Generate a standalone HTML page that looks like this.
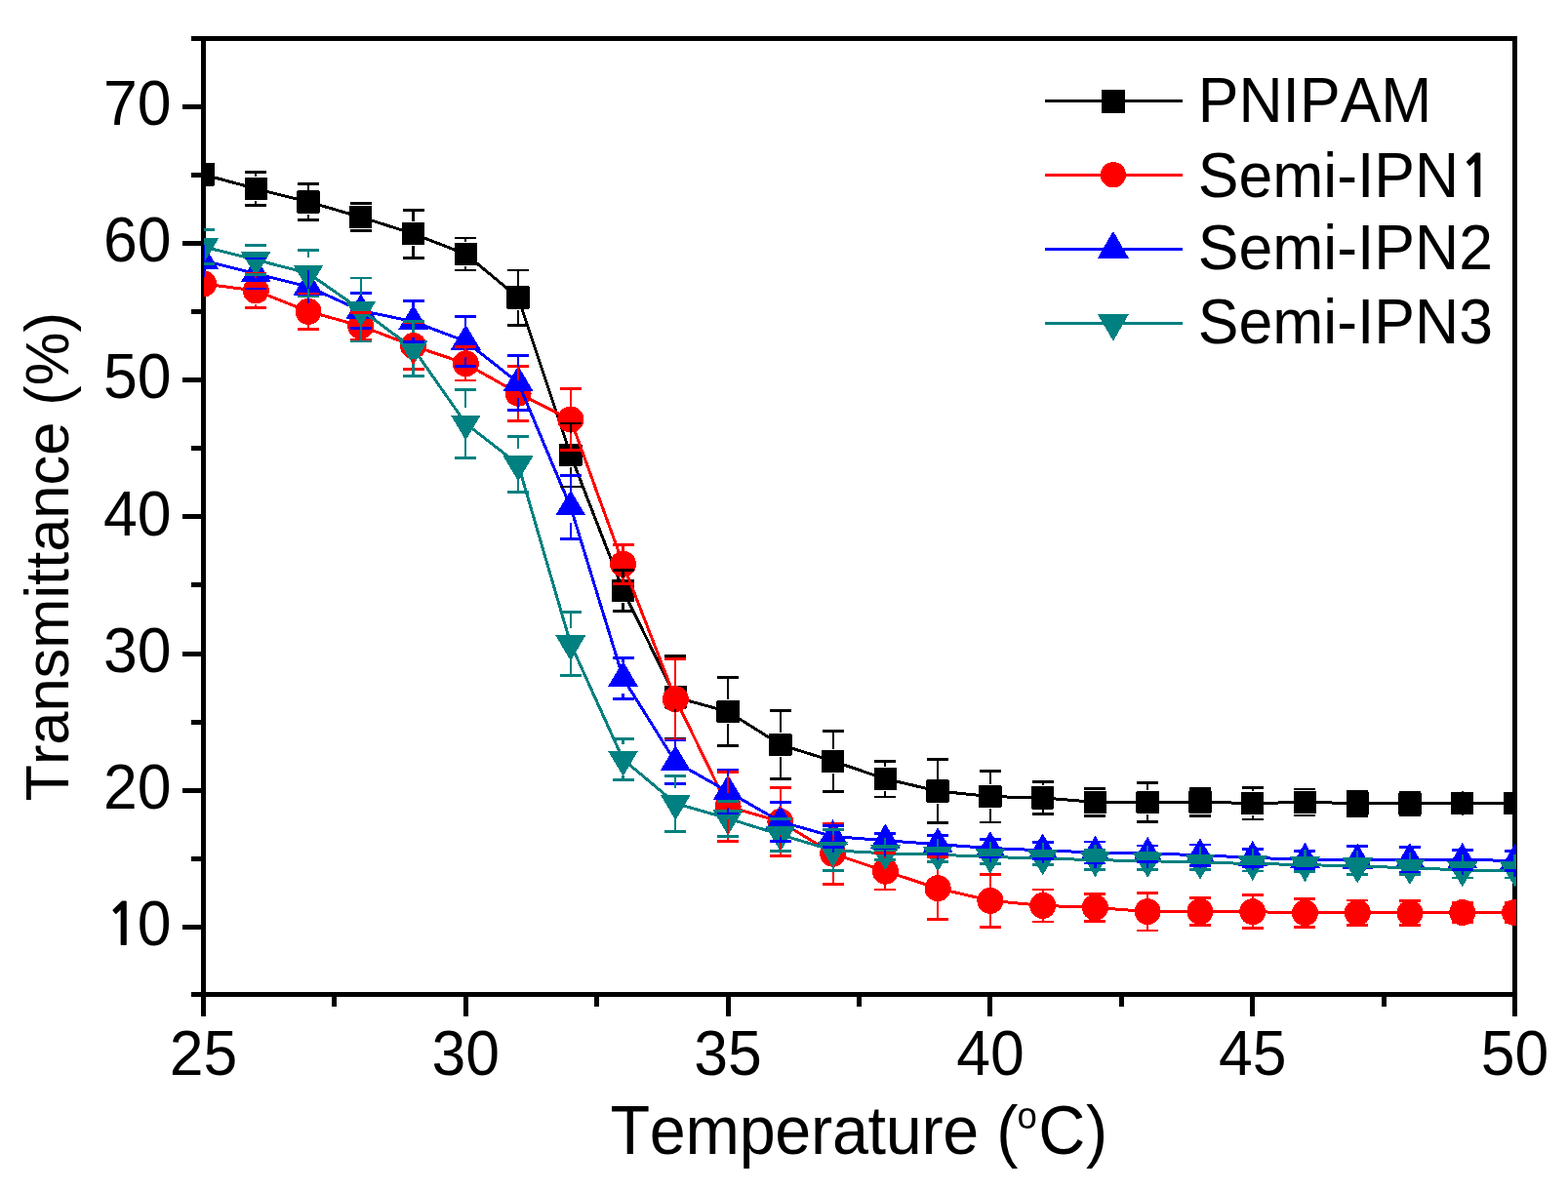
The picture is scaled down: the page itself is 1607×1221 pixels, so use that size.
<!DOCTYPE html>
<html><head><meta charset="utf-8"><title>Transmittance vs Temperature</title>
<style>html,body{margin:0;padding:0;background:#fff;}svg{display:block;}</style>
</head><body>
<svg width="1607" height="1221" viewBox="0 0 1607 1221" style="font-kerning:none">
<defs><clipPath id="pc"><rect x="209" y="39.5" width="1345" height="980"/></clipPath></defs>
<rect width="1607" height="1221" fill="#fff"/>
<path fill="none" stroke="#000" stroke-width="5" shape-rendering="crispEdges" d="M206 39.5H1555M206 1019.5H1555M208.5 37V1022M1552.5 37V1022M196.3 1019.5H208.5M186.8 950.4H208.5M196.3 880.3H208.5M186.8 810.2H208.5M196.3 740.1H208.5M186.8 670H208.5M196.3 599.9H208.5M186.8 529.8H208.5M196.3 459.7H208.5M186.8 389.6H208.5M196.3 319.5H208.5M186.8 249.4H208.5M196.3 179.3H208.5M186.8 109.2H208.5M196.3 39.5H208.5M208.5 1019.5V1041.5M342.9 1019.5V1031.5M477.3 1019.5V1041.5M611.7 1019.5V1031.5M746.1 1019.5V1041.5M880.5 1019.5V1031.5M1014.9 1019.5V1041.5M1149.3 1019.5V1031.5M1283.7 1019.5V1041.5M1418.1 1019.5V1031.5M1552.5 1019.5V1041.5"/>
<g font-family="Liberation Sans, Arial, sans-serif" font-size="62.5" fill="#000"><text x="175.4" y="932.02" text-anchor="end" transform="scale(1 1.04)"><tspan font-family="NanumGothic, sans-serif" font-weight="bold" font-size="57.5">1</tspan><tspan dx="-2.2">0</tspan></text><text x="175.4" y="797.21" text-anchor="end" transform="scale(1 1.04)">20</text><text x="175.4" y="662.4" text-anchor="end" transform="scale(1 1.04)">30</text><text x="175.4" y="527.6" text-anchor="end" transform="scale(1 1.04)">40</text><text x="175.4" y="392.79" text-anchor="end" transform="scale(1 1.04)">50</text><text x="175.4" y="257.98" text-anchor="end" transform="scale(1 1.04)">60</text><text x="175.4" y="123.17" text-anchor="end" transform="scale(1 1.04)">70</text><text x="208.5" y="1059.9" text-anchor="middle" transform="scale(1 1.04)">25</text><text x="477.3" y="1059.9" text-anchor="middle" transform="scale(1 1.04)">30</text><text x="746.1" y="1059.9" text-anchor="middle" transform="scale(1 1.04)">35</text><text x="1014.9" y="1059.9" text-anchor="middle" transform="scale(1 1.04)">40</text><text x="1283.7" y="1059.9" text-anchor="middle" transform="scale(1 1.04)">45</text><text x="1552.5" y="1059.9" text-anchor="middle" transform="scale(1 1.04)">50</text></g>
<g clip-path="url(#pc)" shape-rendering="crispEdges">
<polyline fill="none" stroke="#000000" stroke-width="3.0" stroke-linejoin="round" points="208.5,178.9 262.26,193.5 316.02,207 369.78,222.5 423.54,239.6 477.3,260.5 531.06,305 584.82,466.4 638.58,605.2 692.34,714.8 746.1,729.6 799.86,763.4 853.62,780.3 907.38,798.5 961.14,811 1014.9,816.6 1068.66,817.9 1122.42,822.4 1176.18,822.6 1229.94,822.1 1283.7,823.6 1337.46,822.4 1391.22,823.6 1444.98,824 1498.74,823.6 1552.5,823.5"/>
<rect x="196.8" y="167.2" width="23.4" height="23.4" rx="1.2" fill="#000000"/>
<rect x="250.56" y="181.8" width="23.4" height="23.4" rx="1.2" fill="#000000"/>
<rect x="304.32" y="195.3" width="23.4" height="23.4" rx="1.2" fill="#000000"/>
<rect x="358.08" y="210.8" width="23.4" height="23.4" rx="1.2" fill="#000000"/>
<rect x="411.84" y="227.9" width="23.4" height="23.4" rx="1.2" fill="#000000"/>
<rect x="465.6" y="248.8" width="23.4" height="23.4" rx="1.2" fill="#000000"/>
<rect x="519.36" y="293.3" width="23.4" height="23.4" rx="1.2" fill="#000000"/>
<rect x="573.12" y="454.7" width="23.4" height="23.4" rx="1.2" fill="#000000"/>
<rect x="626.88" y="593.5" width="23.4" height="23.4" rx="1.2" fill="#000000"/>
<rect x="680.64" y="703.1" width="23.4" height="23.4" rx="1.2" fill="#000000"/>
<rect x="734.4" y="717.9" width="23.4" height="23.4" rx="1.2" fill="#000000"/>
<rect x="788.16" y="751.7" width="23.4" height="23.4" rx="1.2" fill="#000000"/>
<rect x="841.92" y="768.6" width="23.4" height="23.4" rx="1.2" fill="#000000"/>
<rect x="895.68" y="786.8" width="23.4" height="23.4" rx="1.2" fill="#000000"/>
<rect x="949.44" y="799.3" width="23.4" height="23.4" rx="1.2" fill="#000000"/>
<rect x="1003.2" y="804.9" width="23.4" height="23.4" rx="1.2" fill="#000000"/>
<rect x="1056.96" y="806.2" width="23.4" height="23.4" rx="1.2" fill="#000000"/>
<rect x="1110.72" y="810.7" width="23.4" height="23.4" rx="1.2" fill="#000000"/>
<rect x="1164.48" y="810.9" width="23.4" height="23.4" rx="1.2" fill="#000000"/>
<rect x="1218.24" y="810.4" width="23.4" height="23.4" rx="1.2" fill="#000000"/>
<rect x="1272" y="811.9" width="23.4" height="23.4" rx="1.2" fill="#000000"/>
<rect x="1325.76" y="810.7" width="23.4" height="23.4" rx="1.2" fill="#000000"/>
<rect x="1379.52" y="811.9" width="23.4" height="23.4" rx="1.2" fill="#000000"/>
<rect x="1433.28" y="812.3" width="23.4" height="23.4" rx="1.2" fill="#000000"/>
<rect x="1487.04" y="811.9" width="23.4" height="23.4" rx="1.2" fill="#000000"/>
<rect x="1540.8" y="811.8" width="23.4" height="23.4" rx="1.2" fill="#000000"/>
<polyline fill="none" stroke="#FF0000" stroke-width="3.0" stroke-linejoin="round" points="208.5,291 262.26,298 316.02,319.3 369.78,334.2 423.54,354.5 477.3,372.8 531.06,403.2 584.82,430 638.58,578.3 692.34,716.7 746.1,826.8 799.86,842.3 853.62,875.2 907.38,893.2 961.14,910.7 1014.9,923.3 1068.66,928.4 1122.42,930.4 1176.18,934.6 1229.94,934.5 1283.7,934.7 1337.46,935.8 1391.22,935.8 1444.98,936 1498.74,935.5 1552.5,935.5"/>
<circle cx="208.5" cy="291" r="13.5" fill="#FF0000"/>
<circle cx="262.26" cy="298" r="13.5" fill="#FF0000"/>
<circle cx="316.02" cy="319.3" r="13.5" fill="#FF0000"/>
<circle cx="369.78" cy="334.2" r="13.5" fill="#FF0000"/>
<circle cx="423.54" cy="354.5" r="13.5" fill="#FF0000"/>
<circle cx="477.3" cy="372.8" r="13.5" fill="#FF0000"/>
<circle cx="531.06" cy="403.2" r="13.5" fill="#FF0000"/>
<circle cx="584.82" cy="430" r="13.5" fill="#FF0000"/>
<circle cx="638.58" cy="578.3" r="13.5" fill="#FF0000"/>
<circle cx="692.34" cy="716.7" r="13.5" fill="#FF0000"/>
<circle cx="746.1" cy="826.8" r="13.5" fill="#FF0000"/>
<circle cx="799.86" cy="842.3" r="13.5" fill="#FF0000"/>
<circle cx="853.62" cy="875.2" r="13.5" fill="#FF0000"/>
<circle cx="907.38" cy="893.2" r="13.5" fill="#FF0000"/>
<circle cx="961.14" cy="910.7" r="13.5" fill="#FF0000"/>
<circle cx="1014.9" cy="923.3" r="13.5" fill="#FF0000"/>
<circle cx="1068.66" cy="928.4" r="13.5" fill="#FF0000"/>
<circle cx="1122.42" cy="930.4" r="13.5" fill="#FF0000"/>
<circle cx="1176.18" cy="934.6" r="13.5" fill="#FF0000"/>
<circle cx="1229.94" cy="934.5" r="13.5" fill="#FF0000"/>
<circle cx="1283.7" cy="934.7" r="13.5" fill="#FF0000"/>
<circle cx="1337.46" cy="935.8" r="13.5" fill="#FF0000"/>
<circle cx="1391.22" cy="935.8" r="13.5" fill="#FF0000"/>
<circle cx="1444.98" cy="936" r="13.5" fill="#FF0000"/>
<circle cx="1498.74" cy="935.5" r="13.5" fill="#FF0000"/>
<circle cx="1552.5" cy="935.5" r="13.5" fill="#FF0000"/>
<polyline fill="none" stroke="#0000FF" stroke-width="3.0" stroke-linejoin="round" points="208.5,267.2 262.26,280.5 316.02,294 369.78,318.4 423.54,329.6 477.3,350 531.06,392.3 584.82,519.8 638.58,695.2 692.34,781.3 746.1,811.5 799.86,842.4 853.62,857.5 907.38,861.7 961.14,865.6 1014.9,869.5 1068.66,871.8 1122.42,874 1176.18,875.1 1229.94,876.6 1283.7,879.4 1337.46,881.2 1391.22,882 1444.98,881.3 1498.74,881.3 1552.5,882.5"/>
<polygon points="208.5,249.87 224,275.87 193,275.87" fill="#0000FF"/>
<polygon points="262.26,263.17 277.76,289.17 246.76,289.17" fill="#0000FF"/>
<polygon points="316.02,276.67 331.52,302.67 300.52,302.67" fill="#0000FF"/>
<polygon points="369.78,301.07 385.28,327.07 354.28,327.07" fill="#0000FF"/>
<polygon points="423.54,312.27 439.04,338.27 408.04,338.27" fill="#0000FF"/>
<polygon points="477.3,332.67 492.8,358.67 461.8,358.67" fill="#0000FF"/>
<polygon points="531.06,374.97 546.56,400.97 515.56,400.97" fill="#0000FF"/>
<polygon points="584.82,502.47 600.32,528.47 569.32,528.47" fill="#0000FF"/>
<polygon points="638.58,677.87 654.08,703.87 623.08,703.87" fill="#0000FF"/>
<polygon points="692.34,763.97 707.84,789.97 676.84,789.97" fill="#0000FF"/>
<polygon points="746.1,794.17 761.6,820.17 730.6,820.17" fill="#0000FF"/>
<polygon points="799.86,825.07 815.36,851.07 784.36,851.07" fill="#0000FF"/>
<polygon points="853.62,840.17 869.12,866.17 838.12,866.17" fill="#0000FF"/>
<polygon points="907.38,844.37 922.88,870.37 891.88,870.37" fill="#0000FF"/>
<polygon points="961.14,848.27 976.64,874.27 945.64,874.27" fill="#0000FF"/>
<polygon points="1014.9,852.17 1030.4,878.17 999.4,878.17" fill="#0000FF"/>
<polygon points="1068.66,854.47 1084.16,880.47 1053.16,880.47" fill="#0000FF"/>
<polygon points="1122.42,856.67 1137.92,882.67 1106.92,882.67" fill="#0000FF"/>
<polygon points="1176.18,857.77 1191.68,883.77 1160.68,883.77" fill="#0000FF"/>
<polygon points="1229.94,859.27 1245.44,885.27 1214.44,885.27" fill="#0000FF"/>
<polygon points="1283.7,862.07 1299.2,888.07 1268.2,888.07" fill="#0000FF"/>
<polygon points="1337.46,863.87 1352.96,889.87 1321.96,889.87" fill="#0000FF"/>
<polygon points="1391.22,864.67 1406.72,890.67 1375.72,890.67" fill="#0000FF"/>
<polygon points="1444.98,863.97 1460.48,889.97 1429.48,889.97" fill="#0000FF"/>
<polygon points="1498.74,863.97 1514.24,889.97 1483.24,889.97" fill="#0000FF"/>
<polygon points="1552.5,865.17 1568,891.17 1537,891.17" fill="#0000FF"/>
<polyline fill="none" stroke="#008080" stroke-width="3.0" stroke-linejoin="round" points="208.5,253 262.26,266.3 316.02,280.2 369.78,317.5 423.54,357.2 477.3,434.2 531.06,476 584.82,660.1 638.58,778.5 692.34,823.6 746.1,839.1 799.86,855.7 853.62,871.8 907.38,874.8 961.14,876.2 1014.9,878.5 1068.66,880 1122.42,881.7 1176.18,882.6 1229.94,884.2 1283.7,885.5 1337.46,886.5 1391.22,888.1 1444.98,889.7 1498.74,892 1552.5,892"/>
<polygon points="208.5,270.33 224,244.33 193,244.33" fill="#008080"/>
<polygon points="262.26,283.63 277.76,257.63 246.76,257.63" fill="#008080"/>
<polygon points="316.02,297.53 331.52,271.53 300.52,271.53" fill="#008080"/>
<polygon points="369.78,334.83 385.28,308.83 354.28,308.83" fill="#008080"/>
<polygon points="423.54,374.53 439.04,348.53 408.04,348.53" fill="#008080"/>
<polygon points="477.3,451.53 492.8,425.53 461.8,425.53" fill="#008080"/>
<polygon points="531.06,493.33 546.56,467.33 515.56,467.33" fill="#008080"/>
<polygon points="584.82,677.43 600.32,651.43 569.32,651.43" fill="#008080"/>
<polygon points="638.58,795.83 654.08,769.83 623.08,769.83" fill="#008080"/>
<polygon points="692.34,840.93 707.84,814.93 676.84,814.93" fill="#008080"/>
<polygon points="746.1,856.43 761.6,830.43 730.6,830.43" fill="#008080"/>
<polygon points="799.86,873.03 815.36,847.03 784.36,847.03" fill="#008080"/>
<polygon points="853.62,889.13 869.12,863.13 838.12,863.13" fill="#008080"/>
<polygon points="907.38,892.13 922.88,866.13 891.88,866.13" fill="#008080"/>
<polygon points="961.14,893.53 976.64,867.53 945.64,867.53" fill="#008080"/>
<polygon points="1014.9,895.83 1030.4,869.83 999.4,869.83" fill="#008080"/>
<polygon points="1068.66,897.33 1084.16,871.33 1053.16,871.33" fill="#008080"/>
<polygon points="1122.42,899.03 1137.92,873.03 1106.92,873.03" fill="#008080"/>
<polygon points="1176.18,899.93 1191.68,873.93 1160.68,873.93" fill="#008080"/>
<polygon points="1229.94,901.53 1245.44,875.53 1214.44,875.53" fill="#008080"/>
<polygon points="1283.7,902.83 1299.2,876.83 1268.2,876.83" fill="#008080"/>
<polygon points="1337.46,903.83 1352.96,877.83 1321.96,877.83" fill="#008080"/>
<polygon points="1391.22,905.43 1406.72,879.43 1375.72,879.43" fill="#008080"/>
<polygon points="1444.98,907.03 1460.48,881.03 1429.48,881.03" fill="#008080"/>
<polygon points="1498.74,909.33 1514.24,883.33 1483.24,883.33" fill="#008080"/>
<polygon points="1552.5,909.33 1568,883.33 1537,883.33" fill="#008080"/>
<path fill="none" stroke="#000000" stroke-width="2.8" d="M251.26 176.5H273.26M251.26 210.5H273.26M305.02 188.8H327.02M305.02 225.2H327.02M358.78 208.8H380.78M358.78 236.2H380.78M412.54 215.1H434.54M412.54 264.1H434.54M466.3 244H488.3M466.3 277H488.3M520.06 276.9H542.06M520.06 333.1H542.06M573.82 433.9H595.82M573.82 498.9H595.82M627.58 584.3H649.58M627.58 626.1H649.58M681.34 672.7H703.34M681.34 756.9H703.34M735.1 694.7H757.1M735.1 764.5H757.1M788.86 728.6H810.86M788.86 798.2H810.86M842.62 749.1H864.62M842.62 811.5H864.62M896.38 780.1H918.38M896.38 816.9H918.38M950.14 778.8H972.14M950.14 843.2H972.14M1003.9 790.2H1025.9M1003.9 843H1025.9M1057.66 801.4H1079.66M1057.66 834.4H1079.66M1111.42 808.4H1133.42M1111.42 836.4H1133.42M1165.18 802.8H1187.18M1165.18 842.4H1187.18M1218.94 808.1H1240.94M1218.94 836.1H1240.94M1272.7 807.2H1294.7M1272.7 840H1294.7M1326.46 808.9H1348.46M1326.46 835.9H1348.46M1380.22 811.1H1402.22M1380.22 836.1H1402.22M1433.98 812H1455.98M1433.98 836H1455.98M1487.74 813.6H1509.74M1487.74 833.6H1509.74M1541.5 813.5H1563.5M1541.5 833.5H1563.5"/>
<path fill="none" stroke="#000000" stroke-width="2.2" d="M262.26 176.5V181M262.26 206V210.5M316.02 188.8V194.5M316.02 219.5V225.2M369.78 208.8V210M369.78 235V236.2M423.54 215.1V227.1M423.54 252.1V264.1M477.3 244V248M477.3 273V277M531.06 276.9V292.5M531.06 317.5V333.1M584.82 433.9V453.9M584.82 478.9V498.9M638.58 584.3V592.7M638.58 617.7V626.1M692.34 672.7V702.3M692.34 727.3V756.9M746.1 694.7V717.1M746.1 742.1V764.5M799.86 728.6V750.9M799.86 775.9V798.2M853.62 749.1V767.8M853.62 792.8V811.5M907.38 780.1V786M907.38 811V816.9M961.14 778.8V798.5M961.14 823.5V843.2M1014.9 790.2V804.1M1014.9 829.1V843M1068.66 801.4V805.4M1068.66 830.4V834.4M1122.42 808.4V809.9M1122.42 834.9V836.4M1176.18 802.8V810.1M1176.18 835.1V842.4M1229.94 808.1V809.6M1229.94 834.6V836.1M1283.7 807.2V811.1M1283.7 836.1V840M1337.46 808.9V809.9M1337.46 834.9V835.9M1498.74 813.6V811.1M1498.74 836.1V833.6M1552.5 813.5V811M1552.5 836V833.5"/>
<path fill="none" stroke="#FF0000" stroke-width="2.8" d="M251.26 280.8H273.26M251.26 315.2H273.26M305.02 301H327.02M305.02 337.6H327.02M358.78 320.4H380.78M358.78 348H380.78M412.54 330.3H434.54M412.54 378.7H434.54M466.3 355.7H488.3M466.3 389.9H488.3M520.06 375.2H542.06M520.06 431.2H542.06M573.82 398.4H595.82M573.82 461.6H595.82M627.58 558.1H649.58M627.58 598.5H649.58M681.34 675.5H703.34M681.34 757.9H703.34M735.1 791.4H757.1M735.1 862.2H757.1M788.86 807.3H810.86M788.86 877.3H810.86M842.62 844H864.62M842.62 906.4H864.62M896.38 874.4H918.38M896.38 912H918.38M950.14 878.7H972.14M950.14 942.7H972.14M1003.9 896.2H1025.9M1003.9 950.4H1025.9M1057.66 911.9H1079.66M1057.66 944.9H1079.66M1111.42 916.5H1133.42M1111.42 944.3H1133.42M1165.18 915.2H1187.18M1165.18 954H1187.18M1218.94 920.5H1240.94M1218.94 948.5H1240.94M1272.7 917.7H1294.7M1272.7 951.7H1294.7M1326.46 921.1H1348.46M1326.46 950.5H1348.46M1380.22 923H1402.22M1380.22 948.6H1402.22M1433.98 923.5H1455.98M1433.98 948.5H1455.98M1487.74 925.5H1509.74M1487.74 945.5H1509.74M1541.5 925.5H1563.5M1541.5 945.5H1563.5"/>
<path fill="none" stroke="#FF0000" stroke-width="2.2" d="M262.26 280.8V284.5M262.26 311.5V315.2M316.02 301V305.8M316.02 332.8V337.6M423.54 330.3V341M423.54 368V378.7M477.3 355.7V359.3M477.3 386.3V389.9M531.06 375.2V389.7M531.06 416.7V431.2M584.82 398.4V416.5M584.82 443.5V461.6M638.58 558.1V564.8M638.58 591.8V598.5M692.34 675.5V703.2M692.34 730.2V757.9M746.1 791.4V813.3M746.1 840.3V862.2M799.86 807.3V828.8M799.86 855.8V877.3M853.62 844V861.7M853.62 888.7V906.4M907.38 874.4V879.7M907.38 906.7V912M961.14 878.7V897.2M961.14 924.2V942.7M1014.9 896.2V909.8M1014.9 936.8V950.4M1068.66 911.9V914.9M1068.66 941.9V944.9M1176.18 915.2V921.1M1176.18 948.1V954M1283.7 917.7V921.2M1283.7 948.2V951.7M1337.46 921.1V922.3M1337.46 949.3V950.5M1391.22 923V922.3M1391.22 949.3V948.6M1444.98 923.5V922.5M1444.98 949.5V948.5M1498.74 925.5V922M1498.74 949V945.5M1552.5 925.5V922M1552.5 949V945.5"/>
<path fill="none" stroke="#0000FF" stroke-width="2.8" d="M251.26 265H273.26M251.26 296H273.26M358.78 300.6H380.78M358.78 336.2H380.78M412.54 308.6H434.54M412.54 350.6H434.54M466.3 324.7H488.3M466.3 375.3H488.3M520.06 364.3H542.06M520.06 420.3H542.06M573.82 487.4H595.82M573.82 552.2H595.82M627.58 674.3H649.58M627.58 716.1H649.58M681.34 758.9H703.34M681.34 803.7H703.34M735.1 789H757.1M735.1 834H757.1M788.86 822.4H810.86M788.86 862.4H810.86M842.62 846.6H864.62M842.62 868.4H864.62M896.38 854.2H918.38M896.38 869.2H918.38M950.14 856.1H972.14M950.14 875.1H972.14M1003.9 860.1H1025.9M1003.9 878.9H1025.9M1057.66 863.5H1079.66M1057.66 880.1H1079.66M1111.42 863H1133.42M1111.42 885H1133.42M1165.18 866.9H1187.18M1165.18 883.3H1187.18M1218.94 865.9H1240.94M1218.94 887.3H1240.94M1272.7 870.4H1294.7M1272.7 888.4H1294.7M1326.46 872.2H1348.46M1326.46 890.2H1348.46M1380.22 867.1H1402.22M1380.22 896.9H1402.22M1433.98 868.3H1455.98M1433.98 894.3H1455.98M1487.74 871.3H1509.74M1487.74 891.3H1509.74M1541.5 872.5H1563.5M1541.5 892.5H1563.5"/>
<path fill="none" stroke="#0000FF" stroke-width="2.2" d="M208.5 250.8V283.6M316.02 277.1V310.9M369.78 300.6V302.4M369.78 334.4V336.2M423.54 308.6V313.6M423.54 345.6V350.6M477.3 324.7V334M477.3 366V375.3M531.06 364.3V376.3M531.06 408.3V420.3M584.82 487.4V503.8M584.82 535.8V552.2M638.58 674.3V679.2M638.58 711.2V716.1M692.34 758.9V765.3M692.34 797.3V803.7M746.1 789V795.5M746.1 827.5V834M799.86 822.4V826.4M799.86 858.4V862.4M853.62 846.6V841.5M853.62 873.5V868.4M907.38 854.2V845.7M907.38 877.7V869.2M961.14 856.1V849.6M961.14 881.6V875.1M1014.9 860.1V853.5M1014.9 885.5V878.9M1068.66 863.5V855.8M1068.66 887.8V880.1M1122.42 863V858M1122.42 890V885M1176.18 866.9V859.1M1176.18 891.1V883.3M1229.94 865.9V860.6M1229.94 892.6V887.3M1283.7 870.4V863.4M1283.7 895.4V888.4M1337.46 872.2V865.2M1337.46 897.2V890.2M1391.22 867.1V866M1391.22 898V896.9M1444.98 868.3V865.3M1444.98 897.3V894.3M1498.74 871.3V865.3M1498.74 897.3V891.3M1552.5 872.5V866.5M1552.5 898.5V892.5"/>
<path fill="none" stroke="#008080" stroke-width="2.8" d="M197.5 235.3H219.5M197.5 270.7H219.5M251.26 251.3H273.26M251.26 281.3H273.26M305.02 256.4H327.02M305.02 304H327.02M358.78 285H380.78M358.78 350H380.78M412.54 329.2H434.54M412.54 385.2H434.54M466.3 399.2H488.3M466.3 469.2H488.3M520.06 447.8H542.06M520.06 504.2H542.06M573.82 627.7H595.82M573.82 692.5H595.82M627.58 757.6H649.58M627.58 799.4H649.58M681.34 795.1H703.34M681.34 852.1H703.34M735.1 821.1H757.1M735.1 857.1H757.1M788.86 839.1H810.86M788.86 872.3H810.86M842.62 850.8H864.62M842.62 892.8H864.62M896.38 868.1H918.38M896.38 881.5H918.38M950.14 869.2H972.14M950.14 883.2H972.14M1003.9 871.5H1025.9M1003.9 885.5H1025.9M1057.66 873.4H1079.66M1057.66 886.6H1079.66M1111.42 871.7H1133.42M1111.42 891.7H1133.42M1165.18 873.9H1187.18M1165.18 891.3H1187.18M1218.94 877.2H1240.94M1218.94 891.2H1240.94M1272.7 878.1H1294.7M1272.7 892.9H1294.7M1326.46 879.5H1348.46M1326.46 893.5H1348.46M1380.22 880.1H1402.22M1380.22 896.1H1402.22M1433.98 882.7H1455.98M1433.98 896.7H1455.98M1487.74 884H1509.74M1487.74 900H1509.74M1541.5 884H1563.5M1541.5 900H1563.5"/>
<path fill="none" stroke="#008080" stroke-width="2.2" d="M208.5 235.3V237M208.5 269V270.7M262.26 251.3V250.3M262.26 282.3V281.3M316.02 256.4V264.2M316.02 296.2V304M369.78 285V301.5M369.78 333.5V350M423.54 329.2V341.2M423.54 373.2V385.2M477.3 399.2V418.2M477.3 450.2V469.2M531.06 447.8V460M531.06 492V504.2M584.82 627.7V644.1M584.82 676.1V692.5M638.58 757.6V762.5M638.58 794.5V799.4M692.34 795.1V807.6M692.34 839.6V852.1M746.1 821.1V823.1M746.1 855.1V857.1M799.86 839.1V839.7M799.86 871.7V872.3M853.62 850.8V855.8M853.62 887.8V892.8M907.38 868.1V858.8M907.38 890.8V881.5M961.14 869.2V860.2M961.14 892.2V883.2M1014.9 871.5V862.5M1014.9 894.5V885.5M1068.66 873.4V864M1068.66 896V886.6M1122.42 871.7V865.7M1122.42 897.7V891.7M1176.18 873.9V866.6M1176.18 898.6V891.3M1229.94 877.2V868.2M1229.94 900.2V891.2M1283.7 878.1V869.5M1283.7 901.5V892.9M1337.46 879.5V870.5M1337.46 902.5V893.5M1391.22 880.1V872.1M1391.22 904.1V896.1M1444.98 882.7V873.7M1444.98 905.7V896.7M1498.74 884V876M1498.74 908V900M1552.5 884V876M1552.5 908V900"/>
</g>
<g shape-rendering="crispEdges"><path d="M1070.9 103.6H1211.8" stroke="#000000" stroke-width="3"/>
<rect x="1128.9" y="91.6" width="24" height="24" rx="0" fill="#000000"/></g>
<text x="1227.8" y="120.19" font-family="Liberation Sans, Arial, sans-serif" font-size="62.5" transform="scale(1 1.04)">PNIPAM</text>
<g shape-rendering="crispEdges"><path d="M1070.9 179.2H1211.8" stroke="#FF0000" stroke-width="3"/>
<circle cx="1140.9" cy="179.2" r="13.15" fill="#FF0000"/></g>
<text x="1227.8" y="193.85" font-family="Liberation Sans, Arial, sans-serif" font-size="62.5" transform="scale(1 1.04)">Semi-IPN<tspan font-family="NanumGothic, sans-serif" font-weight="bold" font-size="57.5" dx="0.3">1</tspan></text>
<g shape-rendering="crispEdges"><path d="M1070.9 255.4H1211.8" stroke="#0000FF" stroke-width="3"/>
<polygon points="1140.9,236.87 1156.9,264.67 1124.9,264.67" fill="#0000FF"/></g>
<text x="1227.8" y="265.58" font-family="Liberation Sans, Arial, sans-serif" font-size="62.5" transform="scale(1 1.04)">Semi-IPN2</text>
<g shape-rendering="crispEdges"><path d="M1070.9 331.3H1211.8" stroke="#008080" stroke-width="3"/>
<polygon points="1140.9,349.83 1156.9,322.03 1124.9,322.03" fill="#008080"/></g>
<text x="1227.8" y="338.94" font-family="Liberation Sans, Arial, sans-serif" font-size="62.5" transform="scale(1 1.04)">Semi-IPN3</text>
<text x="625.5" y="1130.88" font-family="Liberation Sans, Arial, sans-serif" font-size="66.5" transform="scale(1 1.046)" letter-spacing="-0.28">Temperature (<tspan font-size="36.5" letter-spacing="0" dy="-25.05" dx="-0.5">o</tspan><tspan letter-spacing="0.6" dx="1.5" dy="25.05">C)</tspan></text>
<text font-family="Liberation Sans, Arial, sans-serif" font-size="61.4" transform="translate(70.2 821.6) rotate(-90) scale(1 1.04)">Transmittance (%)</text>
</svg>
</body></html>
